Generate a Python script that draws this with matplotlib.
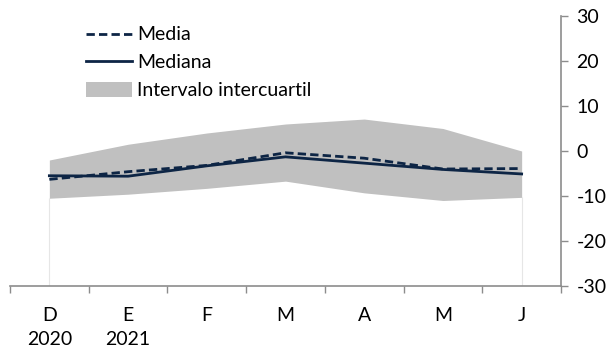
import numpy as np
import matplotlib.pyplot as plt
from matplotlib.patches import Patch
from matplotlib.lines import Line2D

plt.rcParams['font.family'] = ['Lato', 'DejaVu Sans']
plt.rcParams['axes.unicode_minus'] = False

meses = ['D\n2020', 'E\n2021', 'F', 'M', 'A', 'M', 'J']
media = [-6.3, -4.6, -3.2, -0.4, -1.6, -4.0, -3.9]
mediana = [-5.5, -5.6, -3.3, -1.3, -2.7, -4.1, -5.1]
q_sup = [-2.0, 1.5, 4.0, 6.0, 7.1, 5.0, 0.0]
q_inf = [-10.5, -9.6, -8.3, -6.7, -9.3, -11.0, -10.3]

azul = '#0d2545'
gris = '#c0c0c0'
eje = '#8c8c8c'

fig = plt.figure(figsize=(6.13, 3.51), dpi=100)
ax = fig.add_axes([10/613, 1-286/351, 551/613, 270/351])

x = np.arange(len(meses))
ax.fill_between(x, q_inf, q_sup, color=gris, lw=0, zorder=1)
# lineas verticales tenues en los extremos
ax.vlines([x[0], x[-1]], -30, [q_inf[0], q_inf[-1]], color='#e6e6e6', lw=0.8, zorder=0)
ax.plot(x, mediana, color=azul, lw=2.0, zorder=3)
ax.plot(x, media, color=azul, lw=2.0, ls=(0, (3, 1.5)), zorder=4)

ax.set_xlim(-0.5, 6.5)
ax.set_ylim(-30, 30)
ax.set_yticks(range(-30, 31, 10))
ax.yaxis.tick_right()
ax.tick_params(axis='y', direction='out', length=5, width=1, color=eje, pad=6, labelsize=14)

ax.set_xticks(x)
ax.set_xticklabels(meses, linespacing=1.5)
ax.set_xticks(np.arange(-0.5, 7, 1), minor=True)
ax.tick_params(axis='x', which='major', length=0, pad=15, labelsize=14)
ax.tick_params(axis='x', which='minor', direction='out', length=5, width=1, color=eje)

for s in ['top', 'left']:
    ax.spines[s].set_visible(False)
for s in ['bottom', 'right']:
    ax.spines[s].set_color(eje)
    ax.spines[s].set_linewidth(1.2)

handles = [Line2D([], [], color=azul, lw=2, ls=(0, (3, 1.5))),
           Line2D([], [], color=azul, lw=2),
           Patch(facecolor=gris, edgecolor='none')]
ax.legend(handles, ['Media', 'Mediana', 'Intervalo intercuartil'],
          loc='upper left', bbox_to_anchor=(0.123, 0.99), frameon=False,
          fontsize=14, handlelength=2.4, handletextpad=0.25,
          labelspacing=0.56, borderaxespad=0, handleheight=0.75)

fig.savefig('out.png', dpi=100)
